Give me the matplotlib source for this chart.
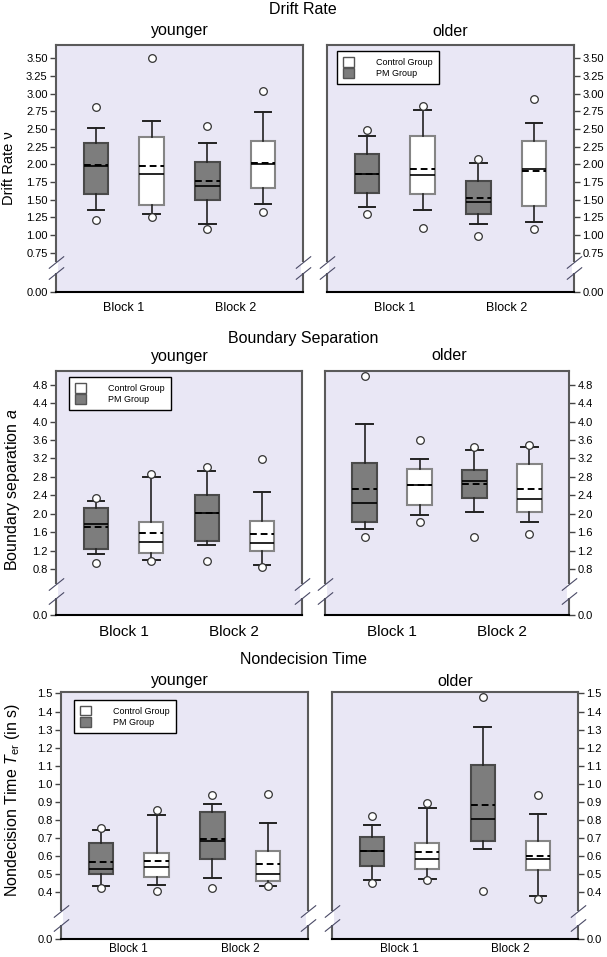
import numpy as np
import matplotlib
matplotlib.use("Agg")
import matplotlib.pyplot as plt
from matplotlib.patches import Patch
from matplotlib.transforms import blended_transform_factory

plt.rcParams['font.family'] = ['Liberation Sans', 'DejaVu Sans']
plt.rcParams['mathtext.fontset'] = 'custom'
plt.rcParams['mathtext.rm'] = 'Liberation Sans'
plt.rcParams['mathtext.it'] = 'Liberation Sans:italic'

# box order in every panel: PM Block 1, Control Block 1, PM Block 2, Control Block 2
groups = ['PM Group', 'Control Group', 'PM Group', 'Control Group']
blocks = ['Block 1', 'Block 2']

# Drift rate, younger
drift_young_lo = [1.35, 1.29, 1.16, 1.44]
drift_young_q1 = [1.58, 1.43, 1.50, 1.66]
drift_young_med = [1.98, 1.87, 1.70, 2.00]
drift_young_q3 = [2.30, 2.39, 2.03, 2.33]
drift_young_hi = [2.52, 2.62, 2.30, 2.74]
drift_young_mean = [1.99, 1.97, 1.76, 2.02]
drift_young_fliers = [[2.81, 1.21], [3.50, 1.25], [2.54, 1.09], [3.04, 1.33]]

# Drift rate, older
drift_old_lo = [1.40, 1.35, 1.16, 1.19]
drift_old_q1 = [1.60, 1.58, 1.30, 1.41]
drift_old_med = [1.86, 1.85, 1.46, 1.94]
drift_old_q3 = [2.15, 2.40, 1.76, 2.33]
drift_old_hi = [2.40, 2.77, 2.02, 2.59]
drift_old_mean = [1.87, 1.94, 1.53, 1.90]
drift_old_fliers = [[2.48, 1.30], [2.82, 1.10], [2.07, 0.99], [2.93, 1.08]]

# Boundary separation, younger
bound_young_lo = [1.13, 1.00, 1.32, 0.88]
bound_young_q1 = [1.24, 1.15, 1.40, 1.18]
bound_young_med = [1.77, 1.38, 2.02, 1.37]
bound_young_q3 = [2.12, 1.83, 2.41, 1.84]
bound_young_hi = [2.27, 2.80, 2.93, 2.47]
bound_young_mean = [1.72, 1.58, 2.02, 1.55]
bound_young_fliers = [[2.35, 0.94], [2.87, 0.97], [3.01, 0.97], [3.19, 0.84]]

# Boundary separation, older
bound_old_lo = [1.66, 1.98, 2.03, 1.83]
bound_old_q1 = [1.82, 2.19, 2.35, 2.04]
bound_old_med = [2.23, 2.62, 2.71, 2.33]
bound_old_q3 = [3.10, 2.97, 2.94, 3.08]
bound_old_hi = [3.95, 3.18, 3.38, 3.44]
bound_old_mean = [2.54, 2.62, 2.65, 2.53]
bound_old_fliers = [[5.00, 1.50], [3.60, 1.83], [3.46, 1.49], [3.50, 1.55]]

# Nondecision time, younger
ter_young_lo = [0.432, 0.441, 0.478, 0.436]
ter_young_q1 = [0.500, 0.482, 0.585, 0.460]
ter_young_med = [0.528, 0.537, 0.685, 0.500]
ter_young_q3 = [0.671, 0.614, 0.844, 0.629]
ter_young_hi = [0.741, 0.828, 0.889, 0.785]
ter_young_mean = [0.564, 0.570, 0.695, 0.557]
ter_young_fliers = [[0.754, 0.423], [0.852, 0.404], [0.938, 0.423], [0.944, 0.432]]

# Nondecision time, older
ter_old_lo = [0.465, 0.472, 0.639, 0.370]
ter_old_q1 = [0.546, 0.528, 0.683, 0.524]
ter_old_med = [0.626, 0.583, 0.802, 0.585]
ter_old_q3 = [0.706, 0.672, 1.104, 0.681]
ter_old_hi = [0.772, 0.865, 1.313, 0.831]
ter_old_mean = [0.630, 0.622, 0.881, 0.598]
ter_old_fliers = [[0.820, 0.450], [0.891, 0.465], [1.483, 0.404], [0.935, 0.339]]

drift_ticks = [0.0, 0.75, 1.0, 1.25, 1.5, 1.75, 2.0, 2.25, 2.5, 2.75, 3.0, 3.25, 3.5]
bound_ticks = [0.0, 0.8, 1.2, 1.6, 2.0, 2.4, 2.8, 3.2, 3.6, 4.0, 4.4, 4.8]
ter_ticks = [0.0, 0.4, 0.5, 0.6, 0.7, 0.8, 0.9, 1.0, 1.1, 1.2, 1.3, 1.4, 1.5]

W, H = 607, 957
fig = plt.figure(figsize=(W / 100, H / 100), dpi=100)

BG = '#e9e7f5'
GREY = '#7d7d7d'


def stats(lo, q1, med, q3, hi, mean, fliers):
    out = []
    for i in range(len(lo)):
        out.append(dict(whislo=lo[i], q1=q1[i], med=med[i], q3=q3[i],
                        whishi=hi[i], mean=mean[i], fliers=fliers[i]))
    return out


def broken_scale(b, g):
    # values below b (the lowest tick above zero) are squeezed into g units
    def fwd(y):
        y = np.asarray(y, dtype=float)
        return np.where(y >= b, y, b - (b - y) * g / b)

    def inv(u):
        u = np.asarray(u, dtype=float)
        return np.where(u >= b, u, b - (b - u) * b / g)
    return fwd, inv


def panel(box, st, ticks, fmt, b, g, top, cuts, right=False, tick_fs=8,
          block_fs=9, block_pad=7):
    x0, y0, x1, y1 = box
    ax = fig.add_axes([x0 / W, 1 - y1 / H, (x1 - x0) / W, (y1 - y0) / H])
    ax.set_facecolor(BG)
    ax.set_yscale('function', functions=broken_scale(b, g))

    faces = [GREY, 'white', GREY, 'white']
    edges = ['#4a4a4a', '#858585', '#4a4a4a', '#858585']
    arts = ax.bxp(st, positions=[1, 2, 3, 4], widths=0.44, capwidths=0.3,
                  patch_artist=True, showmeans=True, meanline=True,
                  medianprops=dict(color='black', lw=1.2),
                  meanprops=dict(color='black', lw=1.4, ls=(0, (3.5, 2))),
                  whiskerprops=dict(color='#222222', lw=1.2),
                  capprops=dict(color='#222222', lw=1.4),
                  flierprops=dict(marker='o', mfc='white', mec='#333333',
                                  ms=5.5, mew=0.9))
    for patch, fc, ec in zip(arts['boxes'], faces, edges):
        patch.set_facecolor(fc)
        patch.set_edgecolor(ec)
        patch.set_linewidth(1.5)

    ax.set_xlim(0.28, 4.72)
    ax.set_ylim(0, top)
    ax.set_yticks(ticks)
    ax.set_yticklabels([fmt % t for t in ticks], fontsize=tick_fs)
    ax.minorticks_off()
    ax.set_xticks([1.5, 3.5])
    ax.set_xticklabels(blocks, fontsize=block_fs)
    ax.tick_params(axis='x', length=0, pad=block_pad)
    ax.tick_params(axis='y', length=4, width=1, color='#444444', pad=2)
    if right:
        ax.yaxis.tick_right()
    else:
        ax.yaxis.tick_left()

    for side in ['left', 'right', 'top']:
        ax.spines[side].set_color('#5a5a5a')
        ax.spines[side].set_linewidth(1.5)
    ax.spines['bottom'].set_color('black')
    ax.spines['bottom'].set_linewidth(1.5)

    # axis break marks on both sides
    tr = blended_transform_factory(ax.transAxes, ax.transData)
    ya, yb = cuts[0] * b, cuts[1] * b
    for xs in [0, 1]:
        ax.plot([xs, xs], [ya, yb], transform=tr, color='white', lw=3,
                clip_on=False, zorder=4, solid_capstyle='butt')
        ax.plot([xs, xs], [ya, yb], transform=tr, ls='none',
                marker=[(-1, -0.8), (1, 0.8)], ms=11, mec='#4a4a66', mew=0.8,
                clip_on=False, zorder=5)
    return ax


def legend(ax, ax_x, ax_y):
    handles = [Patch(facecolor='white', edgecolor='#555555', lw=1),
               Patch(facecolor=GREY, edgecolor='#555555', lw=1)]
    leg = ax.legend(handles, ['Control Group', 'PM Group'], loc='upper left',
                    bbox_to_anchor=(ax_x, ax_y), borderaxespad=0, fontsize=6.5,
                    handlelength=1.2, handleheight=1.2, handletextpad=2.4,
                    labelspacing=0.15, borderpad=0.7, fancybox=False,
                    framealpha=1, edgecolor='black')
    leg.get_frame().set_linewidth(1.0)
    leg.set_zorder(6)


# row 1: drift rate
a = panel((56, 45, 303, 292),
          stats(drift_young_lo, drift_young_q1, drift_young_med, drift_young_q3,
                drift_young_hi, drift_young_mean, drift_young_fliers),
          drift_ticks, '%.2f', 0.75, 0.558, 3.69, (0.47, 0.77))
a = panel((327, 45, 574, 292),
          stats(drift_old_lo, drift_old_q1, drift_old_med, drift_old_q3,
                drift_old_hi, drift_old_mean, drift_old_fliers),
          drift_ticks, '%.2f', 0.75, 0.558, 3.69, (0.47, 0.77), right=True)
legend(a, 0.04, 0.976)

# row 2: boundary separation
a = panel((56, 371, 302, 615),
          stats(bound_young_lo, bound_young_q1, bound_young_med, bound_young_q3,
                bound_young_hi, bound_young_mean, bound_young_fliers),
          bound_ticks, '%.1f', 0.8, 1.0, 5.10, (0.38, 0.68), block_fs=11)
legend(a, 0.053, 0.975)
a = panel((325, 371, 569, 615),
          stats(bound_old_lo, bound_old_q1, bound_old_med, bound_old_q3,
                bound_old_hi, bound_old_mean, bound_old_fliers),
          bound_ticks, '%.1f', 0.8, 1.0, 5.10, (0.38, 0.68), right=True, block_fs=11)

# row 3: nondecision time
a = panel((61, 692, 308, 939),
          stats(ter_young_lo, ter_young_q1, ter_young_med, ter_young_q3,
                ter_young_hi, ter_young_mean, ter_young_fliers),
          ter_ticks, '%.1f', 0.4, 0.26, 1.508, (0.30, 0.59),
          block_fs=8.5, block_pad=3)
legend(a, 0.053, 0.968)
a = panel((332, 692, 578, 939),
          stats(ter_old_lo, ter_old_q1, ter_old_med, ter_old_q3,
                ter_old_hi, ter_old_mean, ter_old_fliers),
          ter_ticks, '%.1f', 0.4, 0.26, 1.508, (0.30, 0.59), right=True,
          block_fs=8.5, block_pad=3)


def ftext(x, y, s, **kw):
    fig.text(x / W, 1 - y / H, s, ha='center', va='center', **kw)


ftext(303, 10, 'Drift Rate', fontsize=11.5)
ftext(180, 31, 'younger', fontsize=11.5)
ftext(450, 31, 'older', fontsize=11.5)
ftext(303, 339, 'Boundary Separation', fontsize=11.5)
ftext(180, 357, 'younger', fontsize=11.5)
ftext(449, 356, 'older', fontsize=11.5)
ftext(303, 660, 'Nondecision Time', fontsize=11.5)
ftext(180, 681, 'younger', fontsize=11.5)
ftext(455, 681, 'older', fontsize=11.5)

ftext(9, 168, 'Drift Rate ν', fontsize=10.5, rotation=90)
ftext(13, 490, 'Boundary separation $a$', fontsize=11.5, rotation=90)
ftext(13, 800, 'Nondecision Time $T_{\\rm er}$ (in s)', fontsize=11.5, rotation=90)

fig.savefig('out.png', dpi=100)
